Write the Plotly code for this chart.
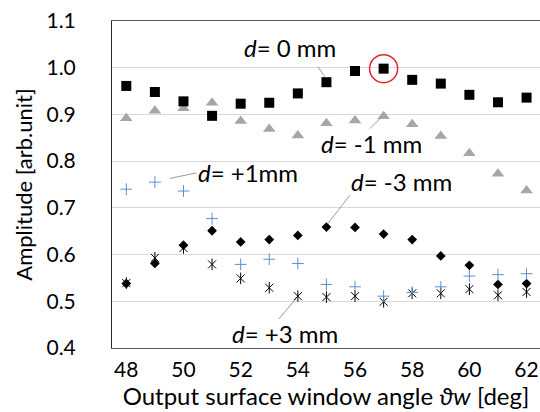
import plotly.graph_objects as go

angles = [48, 49, 50, 51, 52, 53, 54, 55, 56, 57, 58, 59, 60, 61, 62]
amp_d0 = [0.961, 0.948, 0.928, 0.897, 0.923, 0.925, 0.945, 0.969, 0.993, 0.998, 0.974, 0.966, 0.942, 0.926, 0.936]
amp_dm1 = [0.892, 0.908, 0.913, 0.925, 0.886, 0.869, 0.855, 0.881, 0.887, 0.896, 0.879, 0.854, 0.817, 0.773, 0.737]
amp_dp1 = [0.740, 0.755, 0.736, 0.677, 0.579, 0.590, 0.581, 0.536, 0.531, 0.511, 0.519, 0.531, 0.554, 0.557, 0.559]
amp_dm3 = [0.538, 0.581, 0.620, 0.651, 0.627, 0.632, 0.641, 0.659, 0.658, 0.644, 0.632, 0.597, 0.577, 0.536, 0.538]
amp_dp3 = [0.539, 0.593, 0.614, 0.579, 0.549, 0.529, 0.511, 0.509, 0.511, 0.499, 0.517, 0.517, 0.526, 0.513, 0.520]
highlight_idx = 9

FONT = "Lato"
fig = go.Figure()

fig.add_trace(go.Scatter(x=angles, y=amp_dm1, mode="markers",
                         marker=dict(symbol="triangle-up", size=11, color="#a6a6a6"), name="d=-1"))
fig.add_trace(go.Scatter(x=angles, y=amp_d0, mode="markers",
                         marker=dict(symbol="square", size=10, color="#000000"), name="d=0"))
fig.add_trace(go.Scatter(x=angles, y=amp_dm3, mode="markers",
                         marker=dict(symbol="diamond", size=7.5, color="#000000"), name="d=-3"))
fig.add_trace(go.Scatter(x=angles, y=amp_dp3, mode="markers",
                         marker=dict(symbol="x-thin-open", size=8, color="#000000",
                                     line=dict(color="#000000", width=1)), name="d=+3"))
fig.add_trace(go.Scatter(x=angles, y=amp_dp3, mode="markers",
                         marker=dict(symbol="line-ns-open", size=8.3, color="#000000",
                                     line=dict(color="#000000", width=1)), name="d=+3b"))
fig.add_trace(go.Scatter(x=angles, y=amp_dp1, mode="markers",
                         marker=dict(symbol="cross-thin-open", size=8.4, color="#5b8fd6",
                                     line=dict(color="#5b8fd6", width=1)), name="d=+1"))
fig.add_trace(go.Scatter(x=[angles[highlight_idx]], y=[amp_d0[highlight_idx]], mode="markers",
                         marker=dict(symbol="circle-open", size=28, color="#e5232b",
                                     line=dict(color="#e5232b", width=1.5)), name="hl"))

lab_font = dict(family=FONT, size=24, color="#000000")
labels = [
    ("<i>d</i>= 0 mm", angles[7], amp_d0[7], -36.5, 34.3),
    ("<i>d</i>= -1 mm", angles[9], amp_dm1[9], -12, -27.3),
    ("<i>d</i>= +1mm", angles[1], amp_dp1[1], 93.4, 10),
    ("<i>d</i>= -3 mm", angles[7], amp_dm3[7], 75.2, 45.8),
    ("<i>d</i>= +3 mm", angles[6], amp_dp3[6], -12.4, -37.4),
]
for t, xv, yv, xs, ys in labels:
    fig.add_annotation(x=xv, y=yv, text=t, showarrow=False, xshift=xs, yshift=ys,
                       font=lab_font, xanchor="center", yanchor="middle")

leaders = [
    (angles[7], amp_d0[7], -1.5, 5.3, -8.5, 15.3),
    (angles[9], amp_dm1[9], -3.7, -2.3, -13.7, -12.3),
    (angles[1], amp_dp1[1], 14.9, 3.7, 41.6, 9.3),
    (angles[7], amp_dm3[7], 1.5, 3.5, 23.5, 31.8),
    (angles[6], amp_dp3[6], -1.9, -2.6, -19.1, -22.9),
]
for xv, yv, x0, y0, x1, y1 in leaders:
    fig.add_shape(type="line", xref="x", yref="y", xsizemode="pixel", ysizemode="pixel",
                  xanchor=xv, yanchor=yv, x0=x0, y0=y0, x1=x1, y1=y1,
                  line=dict(color="#7f7f7f", width=0.8))

fig.update_layout(
    width=540, height=412,
    margin=dict(l=112, r=0, t=21, b=64),
    paper_bgcolor="white", plot_bgcolor="white",
    showlegend=False,
    font=dict(family=FONT, color="#000000"),
)
fig.update_xaxes(range=[47.5, 62.47], tick0=48, dtick=2, ticks="",
                 showgrid=False, zeroline=False,
                 showline=True, linecolor="#595959", linewidth=1, mirror=True,
                 tickfont=dict(family=FONT, size=21, color="#000000"),
                 ticklabelstandoff=3,
                 title=dict(text="Output surface window angle <i>ϑw</i> [deg]",
                            font=dict(family=FONT, size=24, color="#000000"), standoff=4))
fig.update_yaxes(range=[0.4, 1.1], dtick=0.1, tickformat=".1f", ticks="",
                 showgrid=True, gridcolor="#d9d9d9", gridwidth=1, zeroline=False,
                 showline=True, linecolor="#262626", linewidth=1,
                 tickfont=dict(family=FONT, size=21, color="#000000"),
                 ticklabelstandoff=31,
                 title=dict(text="Amplitude [arb.unit]",
                            font=dict(family=FONT, size=22, color="#000000"), standoff=7))

fig.write_html("out.html")
